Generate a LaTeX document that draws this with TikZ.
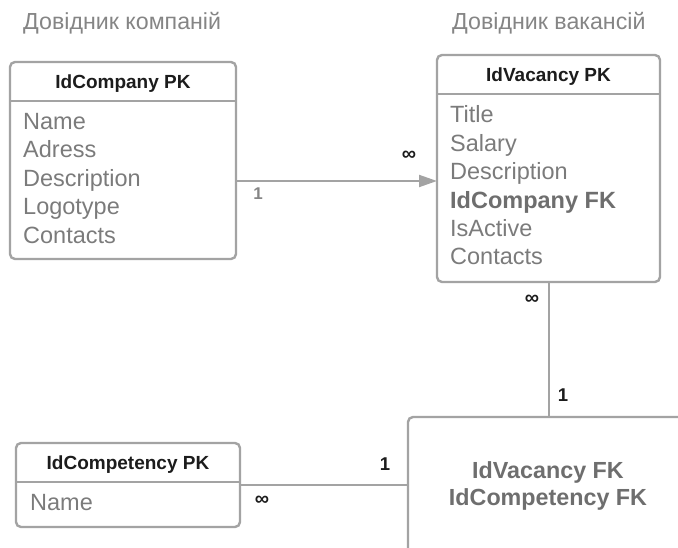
\documentclass[tikz,border=0pt]{standalone}
\usepackage{fontspec}
\setmainfont{Liberation Sans}
\usetikzlibrary{arrows.meta}
\definecolor{edge}{HTML}{A3A3A3}
\definecolor{field}{HTML}{7B7B7B}
\definecolor{keyfield}{HTML}{6E6E6E}
\definecolor{heading}{HTML}{1C1C1C}
\definecolor{caption}{HTML}{858585}
\tikzset{
  table/.style={draw=edge, line width=2.4pt, rounded corners=5pt, outer sep=0pt,
    inner sep=0pt, anchor=north west},
  conn/.style={draw=edge, line width=2pt},
  pk/.style={font=\fontsize{19}{21}\selectfont\bfseries, text=heading, anchor=base, inner sep=0pt},
  fieldtxt/.style={font=\fontsize{23.5}{26}\selectfont, text=field, anchor=base west, inner sep=0pt},
  fktxt/.style={font=\fontsize{23.5}{26}\selectfont\bfseries, text=keyfield, anchor=base west, inner sep=0pt},
  linktxt/.style={font=\fontsize{23.3}{26}\selectfont\bfseries, text=keyfield, anchor=base, inner sep=0pt},
  title/.style={font=\fontsize{23.2}{26}\selectfont, text=caption, anchor=base west, inner sep=0pt},
  many/.style={font=\fontsize{20}{20}\selectfont\bfseries, text=heading, inner sep=0pt},
  one/.style={font=\fontsize{18.5}{20}\selectfont\bfseries, text=heading, inner sep=0pt},
  onegray/.style={font=\fontsize{17}{18}\selectfont\bfseries, text=caption, inner sep=0pt},
}
\begin{document}
\begin{tikzpicture}[x=1pt, y=-1pt]
\useasboundingbox (0,0) rectangle (678,548);
\begin{scope}
\clip (0,0) rectangle (678,548);

% section titles
\node[title] (t1) at (23,29.5) {Довідник компаній};
\node[title] (t2) at (452,29.5) {Довідник вакансій};

% companies table
\node[table, minimum width=226pt, minimum height=197pt] (comp) at (10,62) {};
\draw[edge, line width=2.4pt] ([yshift=-39pt]comp.north west) -- ([yshift=-39pt]comp.north east);
\node[pk] (comppk) at (123,88.5) {IdCompany PK};
\foreach \t [count=\i from 0] in {Name,Adress,Description,Logotype,Contacts}
  \node[fieldtxt] (compf\i) at (23,{129.5+28.4*\i}) {\t};

% vacancies table
\node[table, minimum width=223pt, minimum height=227pt] (vac) at (437,55) {};
\draw[edge, line width=2.4pt] ([yshift=-39pt]vac.north west) -- ([yshift=-39pt]vac.north east);
\node[pk] (vacpk) at (548.5,81.5) {IdVacancy PK};
\node[fieldtxt] (vacf0) at (450,123) {Title};
\node[fieldtxt] (vacf1) at (450,151.4) {Salary};
\node[fieldtxt] (vacf2) at (450,179.8) {Description};
\node[fktxt]    (vacf3) at (450,208.2) {IdCompany FK};
\node[fieldtxt] (vacf4) at (450,236.6) {IsActive};
\node[fieldtxt] (vacf5) at (450,265) {Contacts};

% competencies table
\node[table, minimum width=224pt, minimum height=84pt] (compt) at (16,443) {};
\draw[edge, line width=2.4pt] ([yshift=-39pt]compt.north west) -- ([yshift=-39pt]compt.north east);
\node[pk] (comptpk) at (128,469.5) {IdCompetency PK};
\node[fieldtxt] (comptf0) at (30,510) {Name};

% vacancy-competency link table
\node[table, minimum width=330pt, minimum height=200pt] (link) at (408,417) {};
\node[linktxt] (linkf0) at (548,478) {IdVacancy FK};
\node[linktxt] (linkf1) at (548,505) {IdCompetency FK};

% relations
\draw[conn, -{Triangle[length=18pt, width=12pt]}]
  ([yshift=-20.5pt]comp.east) -- ([yshift=-20.5pt]comp.east -| vac.west);
\node[onegray] (c1) at (258,194) {1};
\node[many] (c2) at (409,156) {∞};

\draw[conn] (vac.south) -- (vac.south |- link.north);
\node[many] (c3) at (532,300) {∞};
\node[one] (c4) at (563,395) {1};

\draw[conn] (compt.east) -- (compt.east -| link.west);
\node[one] (c5) at (385,464) {1};
\node[many] (c6) at (262,501) {∞};
\end{scope}
\end{tikzpicture}
\end{document}
